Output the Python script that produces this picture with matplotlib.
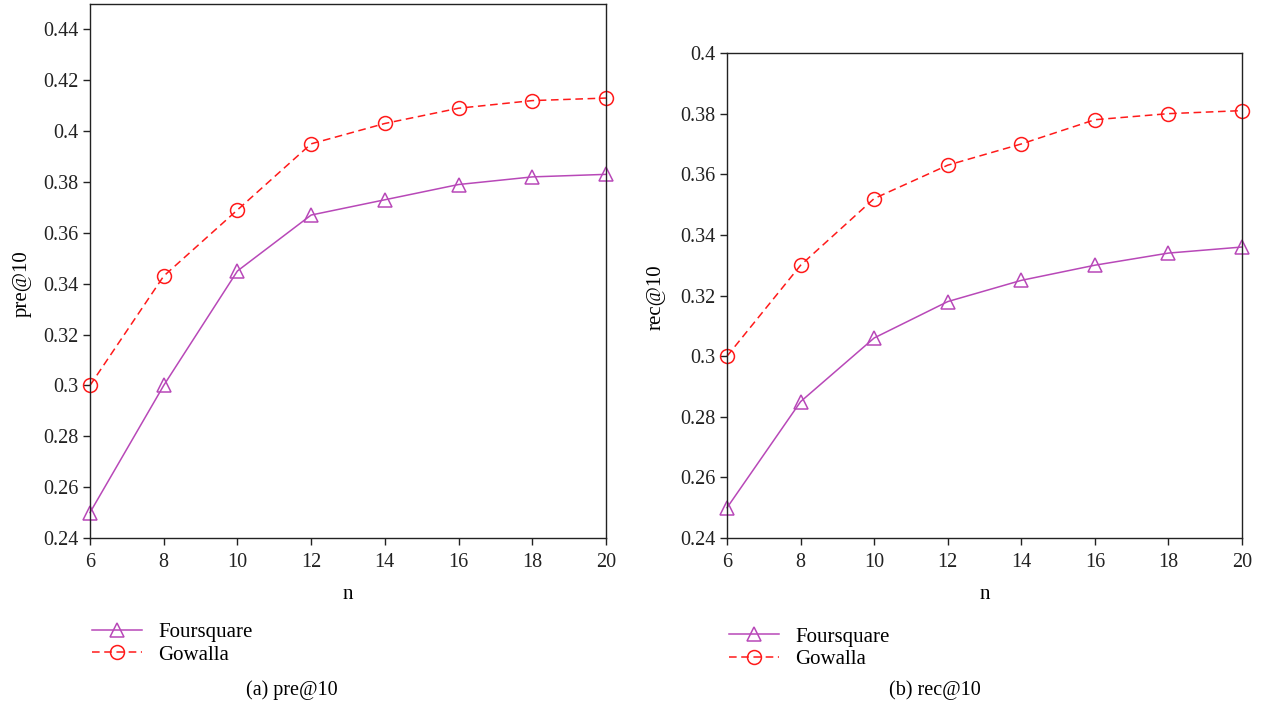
import matplotlib
matplotlib.use("Agg")
import matplotlib.pyplot as plt

plt.rcParams['font.family'] = ['Liberation Serif', 'DejaVu Serif']

n_values = [6, 8, 10, 12, 14, 16, 18, 20]
pre_foursquare = [0.250, 0.300, 0.345, 0.367, 0.373, 0.379, 0.382, 0.383]
pre_gowalla = [0.300, 0.343, 0.369, 0.395, 0.403, 0.409, 0.412, 0.413]
rec_foursquare = [0.250, 0.285, 0.306, 0.318, 0.325, 0.330, 0.334, 0.336]
rec_gowalla = [0.300, 0.330, 0.352, 0.363, 0.370, 0.378, 0.380, 0.381]

pre_yticks = [0.24, 0.26, 0.28, 0.30, 0.32, 0.34, 0.36, 0.38, 0.40, 0.42, 0.44]
pre_yticklabels = ['0.24', '0.26', '0.28', '0.3', '0.32', '0.34', '0.36', '0.38', '0.4', '0.42', '0.44']
rec_yticks = [0.24, 0.26, 0.28, 0.30, 0.32, 0.34, 0.36, 0.38, 0.40]
rec_yticklabels = ['0.24', '0.26', '0.28', '0.3', '0.32', '0.34', '0.36', '0.38', '0.4']

purple = '#B848B8'
red = '#FF1A1A'

fig = plt.figure(figsize=(12.64, 7.08), dpi=100)
ax1 = fig.add_axes([0.0712, 0.2401, 0.4082, 0.7543])
ax2 = fig.add_axes([0.5752, 0.2401, 0.4074, 0.6850])

def draw(ax, fs, gw, yticks, ylabels, ylim, ylab):
    l1, = ax.plot(n_values, fs, color=purple, lw=1.1, marker='^', ms=10,
                  mfc='none', mec=purple, mew=1.1, label='Foursquare', clip_on=False)
    l2, = ax.plot(n_values, gw, color=red, lw=1.1, ls=(0, (5, 3)), marker='o', ms=10,
                  mfc='none', mec=red, mew=1.1, label='Gowalla', clip_on=False)
    ax.set_xlim(6, 20)
    ax.set_ylim(*ylim)
    ax.set_xticks(n_values)
    ax.set_yticks(yticks)
    ax.set_yticklabels(ylabels)
    ax.tick_params(direction='out', length=5, width=1, labelsize=14.5, colors='#222222')
    ax.tick_params(axis='x', pad=6)
    for s in ax.spines.values():
        s.set_linewidth(1.0)
        s.set_color('#222222')
    ax.set_xlabel('n', fontsize=15, labelpad=9)
    ax.set_ylabel(ylab, fontsize=15)
    return l1, l2

h1 = draw(ax1, pre_foursquare, pre_gowalla, pre_yticks, pre_yticklabels, (0.24, 0.45), 'pre@10')
h2 = draw(ax2, rec_foursquare, rec_gowalla, rec_yticks, rec_yticklabels, (0.24, 0.40), 'rec@10')
ax1.yaxis.set_label_coords(-0.113, 0.476)
ax2.yaxis.set_label_coords(-0.119, 0.496)

leg_kw = dict(loc='upper left', frameon=False, fontsize=15, handlelength=2.4,
              handletextpad=0.75, labelspacing=0.12, borderaxespad=0)
fig.legend(h1, ['Foursquare', 'Gowalla'], bbox_to_anchor=(0.0665, 0.132), **leg_kw)
fig.legend(h2, ['Foursquare', 'Gowalla'], bbox_to_anchor=(0.5705, 0.126), **leg_kw)

fig.text(0.231, 0.025, '(a) pre@10', ha='center', va='center', fontsize=14.5)
fig.text(0.740, 0.025, '(b) rec@10', ha='center', va='center', fontsize=14.5)

fig.savefig('out.png', dpi=100)
